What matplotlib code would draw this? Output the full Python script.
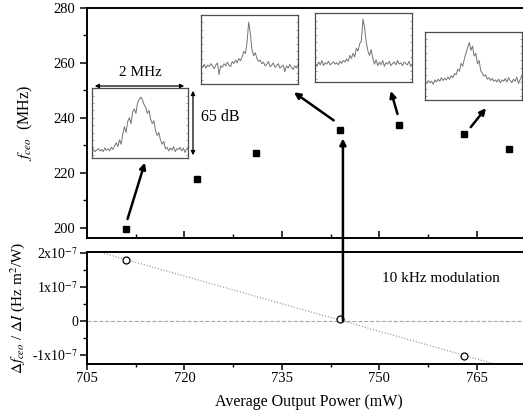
import numpy as np
import matplotlib
matplotlib.use('Agg')
import matplotlib.pyplot as plt
from matplotlib.patches import FancyArrowPatch, ConnectionPatch
from matplotlib.ticker import MultipleLocator

plt.rcParams['font.family'] = ['Liberation Serif', 'DejaVu Serif']
plt.rcParams['mathtext.fontset'] = 'stix'

# data
power = [711, 722, 731, 744, 753, 763, 770]
fceo = [199.5, 217.7, 227.0, 235.5, 237.4, 234.0, 228.5]

mod_power = [711, 744, 763]
mod_slope = [1.78e-7, 0.07e-7, -1.04e-7]

xticks = [705, 720, 735, 750, 765]
yticks_top = [200, 220, 240, 260, 280]
yticks_bot = [-1e-7, 0, 1e-7, 2e-7]
ytick_bot_labels = ['-1x10$^{-7}$', '0', '1x10$^{-7}$', '2x10$^{-7}$']

# inset spectra (normalised, read by eye)
spec1 = [0.15, 0.17, 0.14, 0.16, 0.18, 0.15, 0.17, 0.14, 0.19, 0.16, 0.18, 0.15, 0.20, 0.17,
         0.22, 0.26, 0.21, 0.30, 0.24, 0.38, 0.48, 0.40, 0.55, 0.60, 0.52, 0.68, 0.72, 0.66,
         0.80, 0.85, 0.88, 0.84, 0.78, 0.74, 0.66, 0.70, 0.58, 0.52, 0.56, 0.42, 0.36, 0.40,
         0.30, 0.24, 0.28, 0.18, 0.20, 0.15, 0.19, 0.16, 0.21, 0.14, 0.18, 0.17, 0.20, 0.15,
         0.19, 0.13, 0.18, 0.17]
spec2 = [0.30, 0.28, 0.32, 0.27, 0.31, 0.29, 0.33, 0.30, 0.26, 0.31, 0.34, 0.18, 0.30, 0.28,
         0.33, 0.30, 0.35, 0.31, 0.29, 0.36, 0.33, 0.38, 0.34, 0.40, 0.37, 0.42, 0.50, 0.47,
         0.62, 0.90, 0.75, 0.52, 0.44, 0.48, 0.40, 0.36, 0.38, 0.33, 0.35, 0.30, 0.32, 0.36,
         0.29, 0.31, 0.34, 0.28, 0.30, 0.33, 0.27, 0.29, 0.31, 0.22, 0.30, 0.27, 0.32, 0.28,
         0.25, 0.30, 0.27, 0.31]
spec3 = [0.30, 0.27, 0.33, 0.29, 0.35, 0.28, 0.32, 0.30, 0.34, 0.29, 0.31, 0.33, 0.30, 0.32,
         0.29, 0.34, 0.31, 0.35, 0.33, 0.37, 0.34, 0.42, 0.38, 0.45, 0.40, 0.52, 0.48, 0.58,
         0.62, 0.92, 0.80, 0.60, 0.48, 0.42, 0.50, 0.38, 0.30, 0.36, 0.28, 0.33, 0.29, 0.35,
         0.27, 0.32, 0.30, 0.34, 0.28, 0.31, 0.33, 0.29, 0.35, 0.30, 0.32, 0.28, 0.33, 0.31,
         0.29, 0.34, 0.27, 0.30]
spec4 = [0.30, 0.28, 0.32, 0.29, 0.31, 0.27, 0.33, 0.30, 0.34, 0.31, 0.36, 0.32, 0.35, 0.33,
         0.37, 0.34, 0.39, 0.36, 0.42, 0.40, 0.48, 0.45, 0.56, 0.52, 0.62, 0.70, 0.78, 0.85,
         0.74, 0.80, 0.66, 0.70, 0.55, 0.60, 0.46, 0.42, 0.38, 0.40, 0.34, 0.36, 0.32, 0.35,
         0.31, 0.33, 0.30, 0.34, 0.29, 0.33, 0.31, 0.35, 0.30, 0.36, 0.32, 0.29, 0.34, 0.31,
         0.37, 0.28, 0.33, 0.38]

W, H = 523, 413


def px(x, y):
    # pixel position (from top-left) -> figure fraction
    return (x / W, 1 - y / H)


def box(x0, y0, x1, y1):
    return [x0 / W, 1 - y1 / H, (x1 - x0) / W, (y1 - y0) / H]


fig = plt.figure(figsize=(5.23, 4.13), dpi=100)
fs = 10.5

ax1 = fig.add_axes(box(87, 8, 530, 238))
ax2 = fig.add_axes(box(87, 252, 530, 364))

for ax in (ax1, ax2):
    ax.set_xlim(705, 773.2)
    ax.set_xticks(xticks)
    ax.xaxis.set_minor_locator(MultipleLocator(7.5))
    for s in ax.spines.values():
        s.set_linewidth(1.4)
    ax.tick_params(which='major', length=5, width=1.1, labelsize=fs)
    ax.tick_params(which='minor', length=3, width=1.0)
    ax.spines['right'].set_visible(False)

# top panel
ax1.plot(power, fceo, 's', color='black', ms=4.5)
ax1.set_ylim(196.2, 280)
ax1.set_yticks(yticks_top)
ax1.yaxis.set_minor_locator(MultipleLocator(10))
ax1.tick_params(axis='x', which='both', direction='in', labelbottom=False)
ax1.tick_params(axis='y', which='both', direction='out')
ax1.set_ylabel('$f_{ceo}$  (MHz)', fontsize=11.5)
ax1.yaxis.set_label_coords(-0.118, 0.5)

# bottom panel
fit = np.polyfit(mod_power, mod_slope, 1)
xf = np.array([705, 775])
ax2.plot(xf, np.polyval(fit, xf), ':', color='0.55', lw=0.8)
ax2.axhline(0, color='0.65', ls='--', lw=0.8)
ax2.plot(mod_power, mod_slope, 'o', mfc='white', mec='black', ms=5, mew=0.9)
ax2.set_ylim(-1.264e-7, 2.02e-7)
ax2.set_yticks(yticks_bot)
ax2.set_yticklabels(ytick_bot_labels)
ax2.yaxis.set_minor_locator(MultipleLocator(0.5e-7))
ax2.tick_params(which='both', direction='out')
ax2.tick_params(axis='y', which='major', labelsize=10, pad=1.5)
ax2.tick_params(axis='x', which='major', length=4, pad=2)
ax2.tick_params(axis='x', which='minor', length=2.5)
ax2.set_ylabel(r'$\Delta f_{ceo}$ / $\Delta I$ (Hz m$^2$/W)', fontsize=11)
ax2.yaxis.set_label_coords(-0.135, 0.5)
ax2.set_xlabel('Average Output Power (mW)', fontsize=11.5)
ax2.xaxis.set_label_coords(0.5, -0.265)
ax2.text(0.8, 0.76, '10 kHz modulation', transform=ax2.transAxes, ha='center', va='center', fontsize=11)

# insets
insets = [((91.7, 88.3, 188.3, 158.3), spec1),
          ((201, 15, 298, 84), spec2),
          ((315.3, 13.3, 412.3, 82.3), spec3),
          ((425, 31.7, 521.7, 100), spec4)]
for (x0, y0, x1, y1), spec in insets:
    ai = fig.add_axes(box(x0, y0, x1, y1))
    ai.plot(np.linspace(0, 1, len(spec)), spec, color='0.45', lw=0.7)
    ai.set_xlim(0, 1)
    ai.set_ylim(0.05, 1.0)
    ai.set_xticks([])
    ai.set_yticks(np.linspace(0.1, 0.9, 9))
    ai.tick_params(axis='y', direction='in', length=1.5, width=0.5, color='0.5',
                   left=True, right=True, labelleft=False)
    for s in ai.spines.values():
        s.set_linewidth(0.9)
        s.set_color('0.3')

# scale bars on the first inset
fig.add_artist(FancyArrowPatch(px(92, 86), px(187, 86), transform=fig.transFigure,
                               arrowstyle='<|-|>', mutation_scale=6, lw=0.9, color='black'))
fig.text(*px(140, 72), '2 MHz', ha='center', va='center', fontsize=11)
fig.add_artist(FancyArrowPatch(px(193, 88), px(193, 158), transform=fig.transFigure,
                               arrowstyle='<|-|>', mutation_scale=6, lw=0.9, color='black'))
fig.text(*px(201, 117), '65 dB', ha='left', va='center', fontsize=11.5)

# arrows from points to insets
arrows = [((126.7, 221.7), (145.7, 160)),
          ((336, 122), (291.7, 90.7)),
          ((398.3, 116.7), (390, 88.3)),
          ((469, 129.3), (487.7, 106))]
for a, b in arrows:
    fig.add_artist(FancyArrowPatch(px(*a), px(*b), transform=fig.transFigure,
                                   arrowstyle='-|>', mutation_scale=9, lw=1.8, color='black'))

# vertical arrow linking the two panels
con = ConnectionPatch(xyA=(744.4, 0), coordsA=ax2.transData,
                      xyB=(744.4, fceo[3]), coordsB=ax1.transData,
                      arrowstyle='-|>', mutation_scale=9, lw=1.8, color='black', shrinkB=6)
fig.add_artist(con)

fig.savefig('out.png', dpi=100)
